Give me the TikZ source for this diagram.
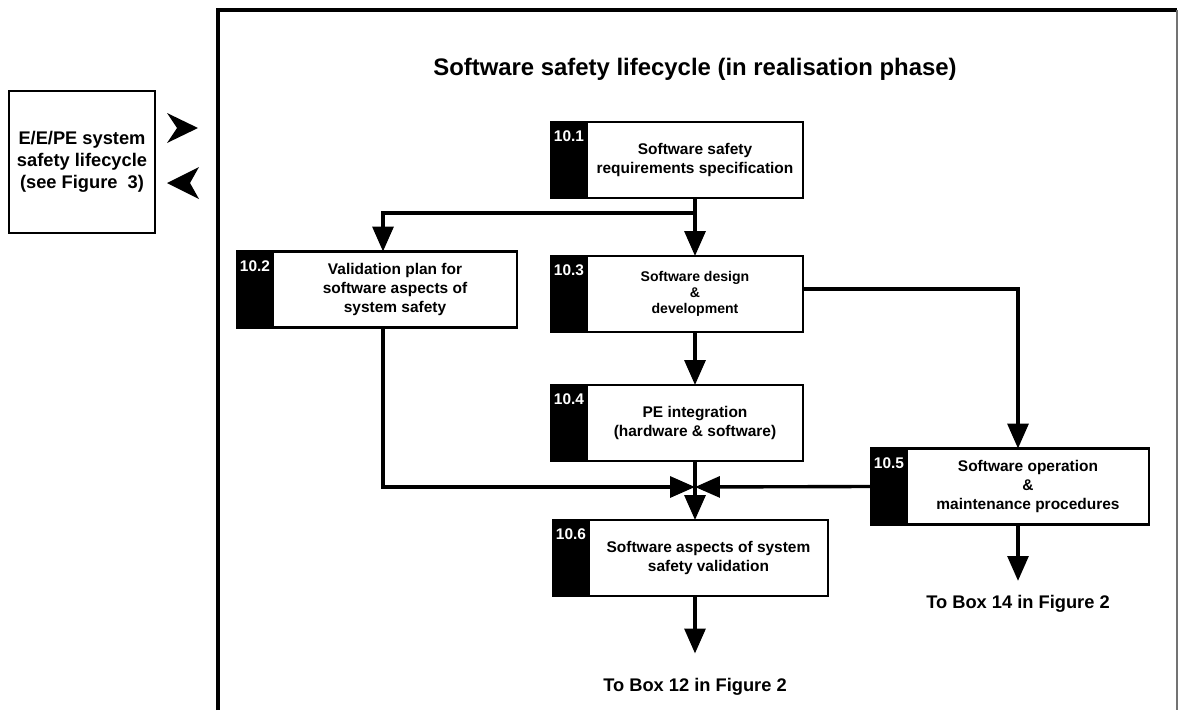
\documentclass[tikz,border=0pt]{standalone}
\usepackage{fontspec}
\setmainfont{Liberation Sans}
\usetikzlibrary{positioning,arrows.meta}

\begin{document}
\begin{tikzpicture}[x=0.25mm, y=-0.25mm, font=\bfseries,
  body/.style={draw, line width=2pt, fill=white, minimum height=19mm, align=center,
    inner sep=2pt, outer sep=0pt, font=\bfseries\fontsize{11}{13.5}\selectfont},
  tab/.style={draw, fill=black, line width=2pt, minimum width=9mm, minimum height=19mm,
    inner sep=0pt, outer sep=0pt},
  num/.style={anchor=north, text=white, inner xsep=0pt, inner ysep=6pt,
    font=\bfseries\fontsize{11}{11}\selectfont},
  line/.style={line width=2.4pt},
  flow/.style={line width=2.4pt, -{Triangle[width=5.2mm, length=6.2mm]}},
  note/.style={font=\bfseries\fontsize{13}{13}\selectfont}]

\useasboundingbox (0,0) rectangle (1183,710);

% outer frame
\draw[line width=2.2pt] (218,710) -- (218,10) -- (1177,10);
\draw[black!55, line width=1.2pt] (1177,10) -- (1177,710);

\node[font=\bfseries\fontsize{17}{17}\selectfont, anchor=base] (title) at (695,75)
  {Software safety lifecycle (in realisation phase)};

\node[draw, line width=1.8pt, minimum width=36.5mm, minimum height=35.5mm, align=center,
  font=\bfseries\fontsize{13}{15.5}\selectfont] (sys) at (82,162)
  {E/E/PE system\\safety lifecycle\\(see Figure~\ 3)};
\fill (167,113) -- (198,128) -- (167,143) -- (177,128) -- cycle;
\fill (199,167) -- (167,183) -- (199,199) -- (190,183) -- cycle;

% boxes
\node[body, minimum width=54mm] (b101) at (695,160) {Software safety\\requirements specification};
\node[tab, left=0pt of b101, label={[num]north:10.1}] (t101) {};
\node[body, minimum width=61mm] (b102) at (395,289.5) {Validation plan for\\software aspects of\\system safety};
\node[tab, left=0pt of b102, label={[num]north:10.2}] (t102) {};
\node[body, minimum width=54mm, font=\bfseries\fontsize{10}{11.5}\selectfont] (b103) at (695,294)
  {Software design\\\&\\development};
\node[tab, left=0pt of b103, label={[num]north:10.3}] (t103) {};
\node[body, minimum width=54mm] (b104) at (695,423) {PE integration\\(hardware \& software)};
\node[tab, left=0pt of b104, label={[num]north:10.4}] (t104) {};
\node[body, minimum width=60.5mm] (b105) at (1028,486.5) {Software operation\\\&\\maintenance procedures};
\node[tab, left=0pt of b105, label={[num]north:10.5}] (t105) {};
\node[body, minimum width=59.75mm] (b106) at (708.5,558) {Software aspects of system\\safety validation};
\node[tab, left=0pt of b106, label={[num]north:10.6}] (t106) {};

\node[note] (to12) at (695,687) {To Box 12 in Figure 2};
\node[note] (to14) at (1018,604) {To Box 14 in Figure 2};

\coordinate (sp) at (695,213);
\coordinate (jn) at (695,487);
\coordinate (cl) at (383,487);

% connectors
\draw[line] (b101) -- (sp);
\draw[flow] (sp) -| (b102.north -| cl);
\draw[flow] (sp) -- (b103);
\draw[flow] (b103) -- (b104);
\draw[flow] ([yshift=3.6pt]b103.east) -| (b105.north -| to14);
\draw[line] (b104) -- (jn);
\draw[flow] (b102.south -| cl) -- (cl) -- (jn);
\draw[flow] (t105.west) -- (jn);
\draw[flow] (jn) -- (b106.north -| jn);
\draw[flow, shorten >=5mm] (b106.south -| to12) -- (to12);
\draw[flow, shorten >=2.4mm] (b105.south -| to14) -- (to14);

\end{tikzpicture}
\end{document}
